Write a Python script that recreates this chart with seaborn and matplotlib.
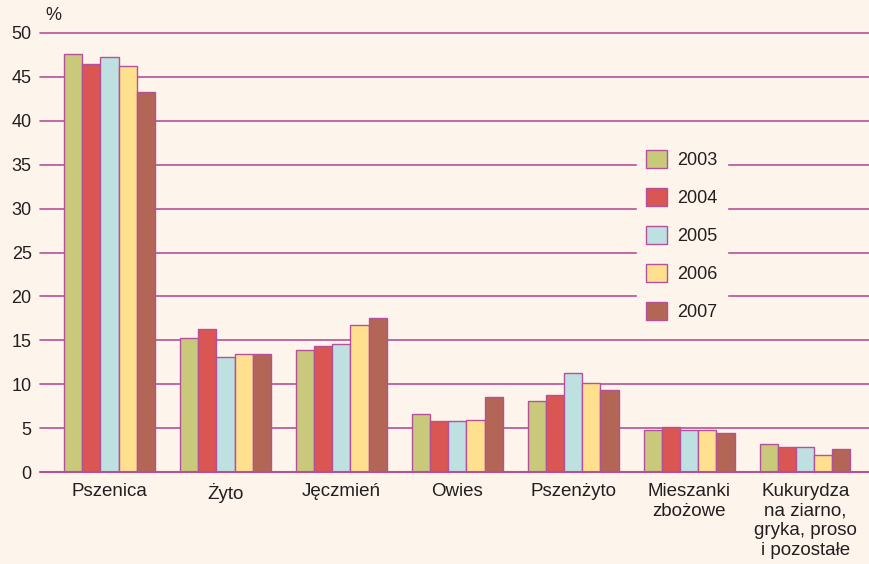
import pandas as pd
import matplotlib.pyplot as plt
import seaborn as sns

# dane (%)
crops = ['Pszenica', 'Żyto', 'Jęczmień', 'Owies', 'Pszenżyto',
         'Mieszanki\nzbożowe', 'Kukurydza\nna ziarno,\ngryka, proso\ni pozostałe']
years = ['2003', '2004', '2005', '2006', '2007']
v2003 = [47.6, 15.3, 13.9, 6.6, 8.1, 4.8, 3.2]
v2004 = [46.5, 16.3, 14.3, 5.8, 8.8, 5.1, 2.8]
v2005 = [47.3, 13.1, 14.6, 5.8, 11.3, 4.8, 2.8]
v2006 = [46.2, 13.5, 16.7, 5.9, 10.1, 4.8, 1.9]
v2007 = [43.3, 13.5, 17.5, 8.5, 9.3, 4.4, 2.6]
colors = ['#c8c97a', '#d95652', '#bfe0e0', '#ffe08f', '#b36655']

bg = '#fdf5ec'
line_col = '#b5509a'
txt_col = '#231f20'

rows = []
for y, vals in zip(years, [v2003, v2004, v2005, v2006, v2007]):
    for c, v in zip(crops, vals):
        rows.append({'crop': c, 'year': y, 'value': v})
df = pd.DataFrame(rows)

sns.set_style('white')
plt.rcParams['font.family'] = ['Liberation Sans', 'DejaVu Sans']

fig = plt.figure(figsize=(8.69, 5.64), dpi=100, facecolor=bg)
ax = fig.add_axes([0.046, 0.163, 0.954, 0.7785], facecolor=bg)

sns.barplot(data=df, x='crop', y='value', hue='year', palette=colors,
            width=0.78, gap=0, edgecolor=line_col, linewidth=1.0,
            saturation=1, ax=ax, zorder=3)

ax.set_ylim(0, 50)
ax.set_xlim(-0.6, 6.55)
ax.set_yticks(range(0, 51, 5))
for yv in range(5, 51, 5):
    ax.axhline(yv, color=line_col, lw=1.2, zorder=1, clip_on=False)
ax.axhline(0, color=line_col, lw=1.5, zorder=4, clip_on=False)

for s in ax.spines.values():
    s.set_visible(False)
ax.tick_params(axis='y', length=0, labelsize=13, colors=txt_col, pad=6)
ax.tick_params(axis='x', length=0, labelsize=13.5, colors=txt_col, pad=8)
for lab in ax.get_xticklabels():
    lab.set_linespacing(1.2)
ax.set_xlabel('')
ax.set_ylabel('')
ax.text(0.007, 1.03, '%', transform=ax.transAxes, fontsize=13, color=txt_col)

leg = ax.legend(loc='upper left', bbox_to_anchor=(0.72, 0.754), fontsize=13,
                frameon=True, facecolor=bg, edgecolor=bg, framealpha=1,
                handlelength=1.15, handleheight=1.15, labelspacing=1.05,
                borderpad=0.5, handletextpad=0.6, borderaxespad=0)
leg.set_zorder(5)
for t in leg.get_texts():
    t.set_color(txt_col)

fig.savefig('out.png', dpi=100, facecolor=bg)
